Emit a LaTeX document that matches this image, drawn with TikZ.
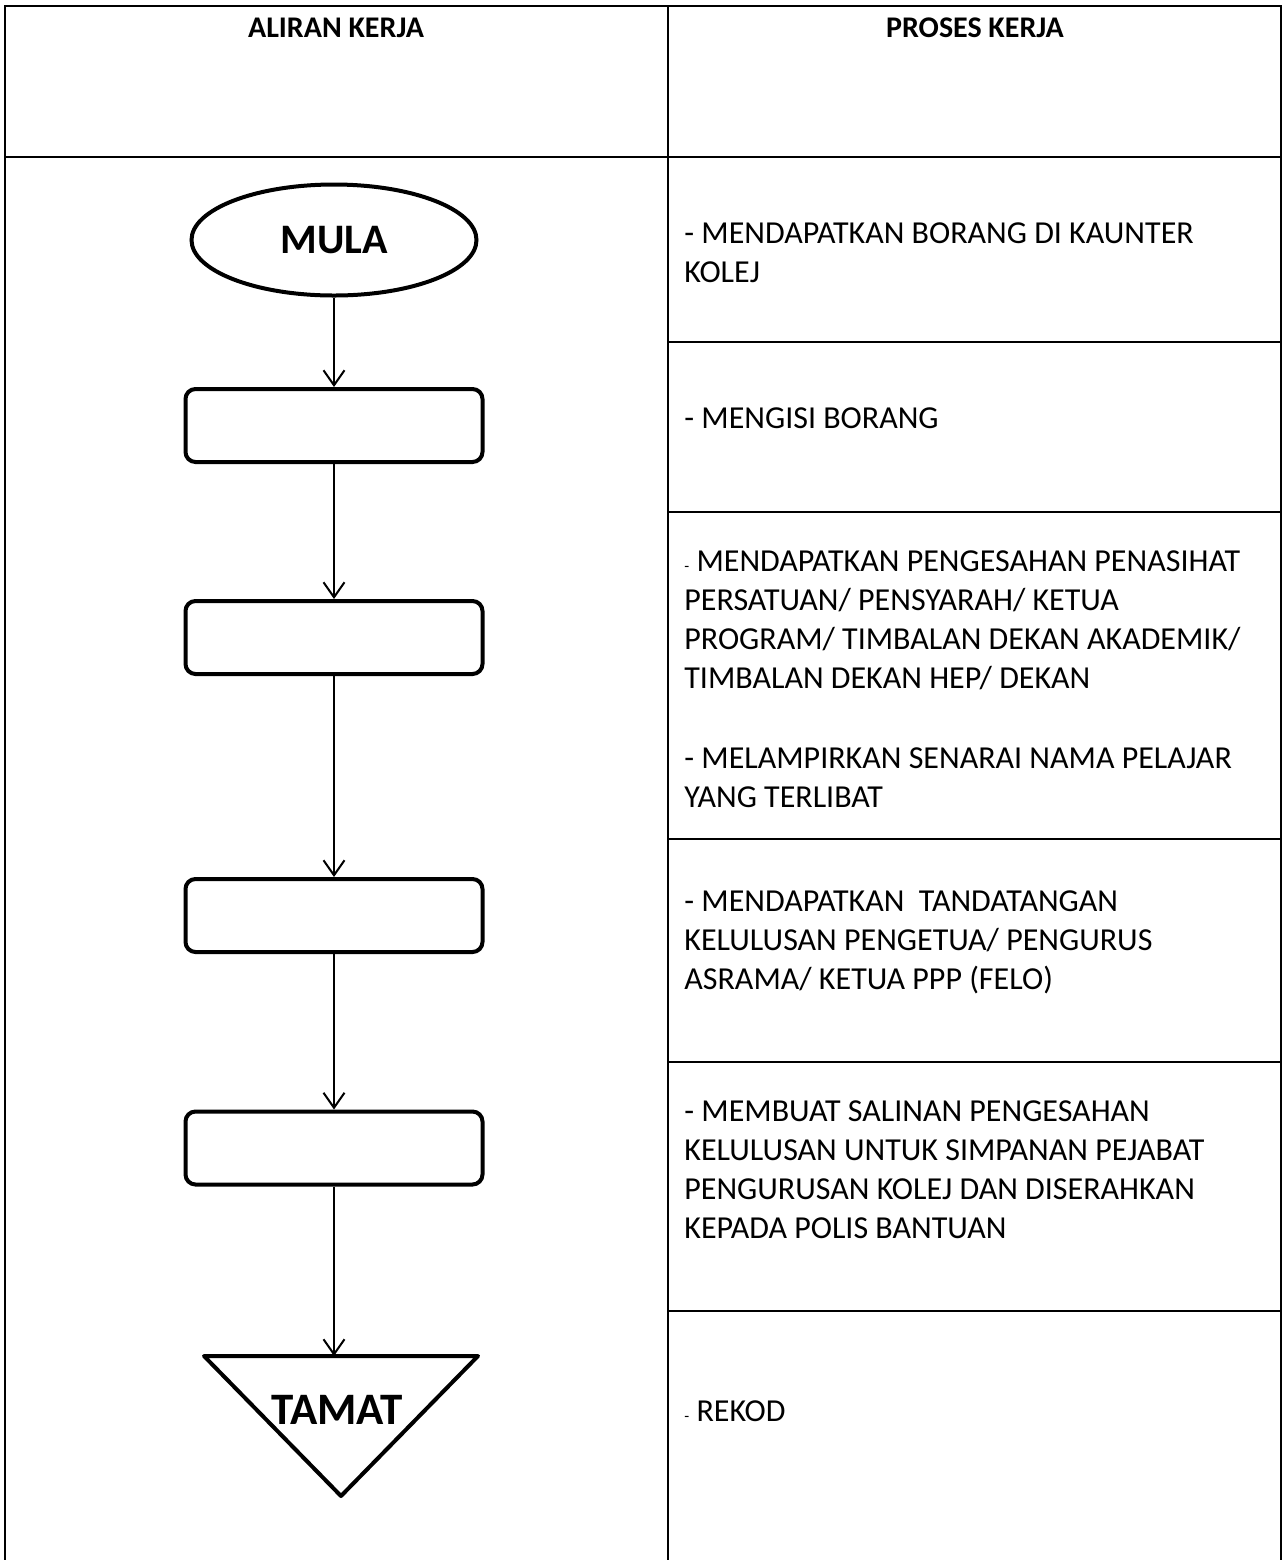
\documentclass[tikz,border=0pt]{standalone}
\usepackage{fontspec}
\setmainfont{Carlito}
\usetikzlibrary{arrows.meta, shapes.geometric}

\tikzset{
  gridline/.style={line width=1.4pt},
  flowbox/.style={draw, line width=2pt, rounded corners=5pt, minimum width=148.5pt, minimum height=36.5pt, inner sep=0pt},
  flowarrow/.style={line width=1pt, -{Straight Barb[length=7.5pt, width=10.5pt]}},
  proctext/.style={anchor=north west, inner sep=0pt, align=left, font=\fontsize{16pt}{19.5pt}\selectfont},
  headtext/.style={font=\fontsize{15pt}{17pt}\selectfont\bfseries},
  endtext/.style={font=\fontsize{21pt}{24pt}\selectfont\bfseries},
}
\newcommand{\smalldash}{{\fontsize{8pt}{8pt}\selectfont -}}

\begin{document}
\begin{tikzpicture}[x=0.5pt, y=-0.5pt, >=Stealth]
  \useasboundingbox (0,0) rectangle (1283,1560);

  % Table grid (no bottom rule)
  \draw[gridline] (5,1560) -- (5,6) -- (1281,6) -- (1281,1560);
  \draw[gridline] (668,6) -- (668,1560);
  \draw[gridline] (5,157) -- (1281,157);
  \foreach \y in {342, 512, 839, 1062, 1311}
    \draw[gridline] (668,\y) -- (1281,\y);

  % Column headers
  \node[headtext] (hdrflow) at (336,28) {ALIRAN KERJA};
  \node[headtext] (hdrproc) at (975,28) {PROSES KERJA};

  % Flow (left column)
  \node[ellipse, draw, line width=2pt, minimum width=142.5pt, minimum height=55.5pt, inner sep=0pt, endtext] (mula) at (334,240) {MULA};
  \node[flowbox] (s1) at (334,425.5) {};
  \node[flowbox] (s2) at (334,637.5) {};
  \node[flowbox] (s3) at (334,915.5) {};
  \node[flowbox] (s4) at (334,1148) {};
  % end triangle
  \draw[line width=2pt, line join=round] (204,1356) -- (478,1356) -- (341,1496) -- cycle;
  \coordinate (tamattop) at (334,1356);
  \node[endtext, font=\fontsize{22.5pt}{26pt}\selectfont\bfseries] (tamat) at (337,1410) {TAMAT};

  \draw[flowarrow] (mula) -- (s1);
  \draw[flowarrow] (s1) -- (s2);
  \draw[flowarrow] (s2) -- (s3);
  \draw[flowarrow] (s3) -- (s4);
  \draw[flowarrow] (s4) -- (tamattop);

  % Process steps (right column)
  \node[proctext] (p1) at (684,222) {- MENDAPATKAN BORANG DI KAUNTER\\KOLEJ};
  \node[proctext] (p2) at (684,407) {- MENGISI BORANG};
  \node[proctext] (p3) at (684,550) {\smalldash\ MENDAPATKAN PENGESAHAN PENASIHAT\\PERSATUAN/ PENSYARAH/ KETUA\\PROGRAM/ TIMBALAN DEKAN AKADEMIK/\\TIMBALAN DEKAN HEP/ DEKAN};
  \node[proctext] (p3b) at (684,747) {- MELAMPIRKAN SENARAI NAMA PELAJAR\\YANG TERLIBAT};
  \node[proctext] (p4) at (684,890) {- MENDAPATKAN\ \ TANDATANGAN\\KELULUSAN PENGETUA/ PENGURUS\\ASRAMA/ KETUA PPP (FELO)};
  \node[proctext] (p5) at (684,1100) {- MEMBUAT SALINAN PENGESAHAN\\KELULUSAN UNTUK SIMPANAN PEJABAT\\PENGURUSAN KOLEJ DAN DISERAHKAN\\KEPADA POLIS BANTUAN};
  \node[proctext] (p6) at (684,1400) {\smalldash\ REKOD};

\end{tikzpicture}
\end{document}
